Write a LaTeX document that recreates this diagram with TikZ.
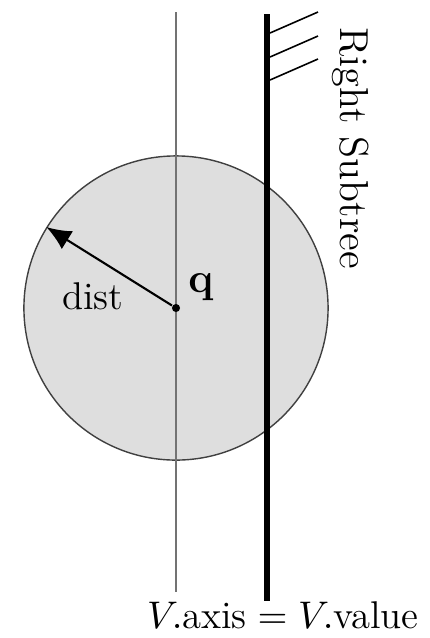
\documentclass[tikz,border=0pt]{standalone}
\usepackage{amsmath}
\usetikzlibrary{arrows.meta}
\begin{document}
\begin{tikzpicture}[x=0.01cm,y=-0.01cm,font=\fontsize{11}{13}\selectfont,
  ball/.style={circle,draw=black!75,fill=black!13,line width=0.4pt,inner sep=0pt,minimum size=3.04cm},
  axisline/.style={draw=black!55,line width=0.45pt},
  splitline/.style={line width=1.7pt},
  hatch/.style={line width=0.45pt},
  arr/.style={-{Latex[length=7pt,width=6pt]},line width=0.6pt},
  dot/.style={circle,fill=black,inner sep=0pt,minimum size=2.3pt}]
\useasboundingbox (0,0) rectangle (429,638);
\node[ball] (ball) at (176,308) {};
\coordinate (atop) at (176,12); \coordinate (abot) at (176,592);
\draw[axisline] (atop) -- (abot);
\coordinate (stop) at (267,14); \coordinate (sbot) at (267,601);
\draw[splitline] (stop) -- (sbot);
% hatching on the right side
\foreach \y in {33,57,80}
  \draw[hatch] (270,\y) -- ++(48,-21);
\node[dot] (q) at (176,308) {};
\draw[arr] (q) -- (ball.148);
\node (dist) at (93,296) {dist};
\node[font=\large] (qlbl) at (201,287) {$\mathbf{q}$};
\node[rotate=-90,font=\fontsize{11.5}{13}\selectfont] (right) at (351,148) {Right Subtree};
\node (split) at (283,615) {$V.\text{axis} = V.\text{value}$};
\end{tikzpicture}
\end{document}
